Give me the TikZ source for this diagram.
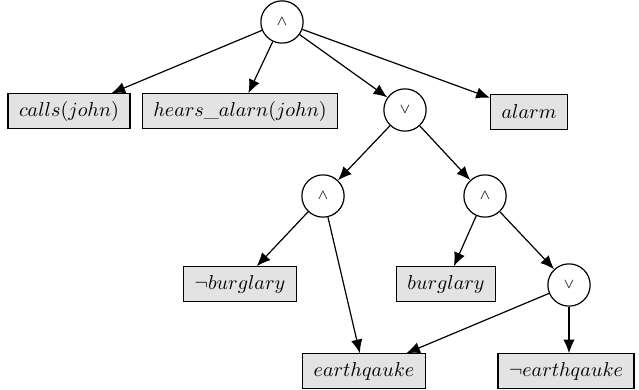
\documentclass[tikz,border=0pt]{standalone}
\usepackage{amsmath}
\usepackage{amssymb}
\usetikzlibrary{arrows.meta}

\tikzset{
  op/.style={draw, circle, minimum size=0.74cm, inner sep=0pt, fill=white, line width=0.6pt},
  lit/.style={draw, rectangle, fill=gray!22, minimum height=0.6cm, inner xsep=5.5pt, line width=0.6pt},
  edge/.style={-{Latex[length=2.4mm,width=2mm]}, line width=0.6pt}
}

\begin{document}
\begin{tikzpicture}[x=0.0175cm, y=-0.0175cm]
        \useasboundingbox (0,0) rectangle (639,390);
        \node[op] (and1) at (282,22){$\scriptstyle\wedge$};
        \node[lit] (calls) at (69,111){$calls(john)$};
        \node[lit] (hears) at (240,111){$hears\_alarn(john)$};
        \node[op] (or1) at (405,110){$\scriptstyle\vee$};
        \node[lit] (alarm) at (529,112){$alarm$};
        \node[op] (and2) at (323,196){$\scriptstyle\wedge$};
        \node[op] (and3) at (485,196){$\scriptstyle\wedge$};
        \node[lit] (nburg) at (240,284){$\neg burglary$};
        \node[lit] (burg) at (446,284){$burglary$};
        \node[op] (or2) at (569,285){$\scriptstyle\vee$};
        \node[lit] (earth) at (364,371){$earthqauke$};
        \node[lit] (nearth) at (566,371){$\neg earthqauke$};
        \draw[edge](and1)--(calls);
        \draw[edge](and1)--(hears);
        \draw[edge](and1)--(or1);
        \draw[edge](and1)--(alarm);
        \draw[edge](or1)--(and2);
        \draw[edge](or1)--(and3);
        \draw[edge](and2)--(nburg);
        \draw[edge](and2)--(earth);
        \draw[edge](and3)--(burg);
        \draw[edge](and3)--(or2);
        \draw[edge](or2)--(earth);
        \draw[edge](or2.south)--(or2.south |- nearth.north);
    \end{tikzpicture}
\end{document}
